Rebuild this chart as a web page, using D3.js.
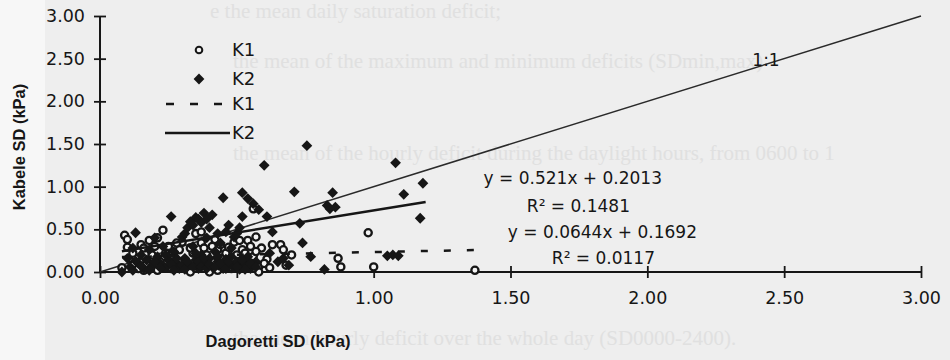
<!DOCTYPE html>
<html>
<head>
<meta charset="utf-8">
<script src="https://cdn.jsdelivr.net/npm/d3@7"></script>
<style>
  body { margin: 0; background: #efefef; }
  svg { display: block; }
</style>
</head>
<body>
<div id="chart"></div>
<script>
// Dagoretti SD (x) vs Kabele SD (y), kPa
const k1Points = [
  [0.08,0.05],[0.09,0.43],[0.10,0.29],[0.11,0.16],[0.12,0.08],[0.13,0.17],[0.14,0.24],[0.15,0.32],
  [0.16,0.02],[0.17,0.10],[0.18,0.37],[0.19,0.20],[0.21,0.02],[0.22,0.12],[0.23,0.06],[0.23,0.49],
  [0.24,0.22],[0.25,0.30],[0.27,0.18],[0.28,0.09],[0.29,0.26],[0.30,0.35],[0.31,0.14],[0.32,0.04],
  [0.33,0.00],[0.34,0.22],[0.35,0.45],[0.36,0.10],[0.37,0.34],[0.37,0.47],[0.38,0.28],[0.39,0.20],
  [0.40,0.00],[0.41,0.12],[0.42,0.38],[0.43,0.26],[0.43,0.02],[0.44,0.07],[0.45,0.16],[0.46,0.22],
  [0.47,0.29],[0.48,0.04],[0.49,0.14],[0.49,0.35],[0.50,0.09],[0.51,0.37],[0.52,0.26],[0.53,0.22],
  [0.54,0.37],[0.55,0.12],[0.56,0.18],[0.56,0.74],[0.57,0.41],[0.58,0.06],[0.58,0.00],[0.59,0.28],
  [0.61,0.15],[0.63,0.32],[0.66,0.32],[0.67,0.26],[0.68,0.08],[0.70,0.20],[0.87,0.16],[0.88,0.06],
  [0.98,0.46],[1.00,0.06],[1.37,0.02],
  [0.10,0.38],[0.12,0.22],[0.14,0.04],[0.16,0.28],[0.20,0.30],[0.21,0.40],[0.26,0.04],[0.28,0.34],
  [0.33,0.28],[0.36,0.18],[0.39,0.08],[0.41,0.30],[0.44,0.32],[0.47,0.05],[0.50,0.20],[0.52,0.05],
  [0.55,0.30],[0.57,0.24],[0.60,0.10],[0.62,0.05]
];
const k2Points = [
  [0.08,0.00],[0.10,0.16],[0.11,0.06],[0.12,0.28],[0.13,0.46],[0.14,0.10],[0.15,0.20],[0.16,0.04],
  [0.17,0.14],[0.18,0.26],[0.19,0.08],[0.20,0.40],[0.21,0.18],[0.22,0.10],[0.23,0.30],[0.24,0.05],
  [0.25,0.14],[0.26,0.65],[0.27,0.24],[0.28,0.10],[0.29,0.04],[0.30,0.41],[0.31,0.16],[0.32,0.52],
  [0.33,0.59],[0.33,0.08],[0.34,0.30],[0.35,0.64],[0.35,0.14],[0.36,0.04],[0.37,0.20],[0.38,0.69],
  [0.38,0.10],[0.39,0.40],[0.40,0.52],[0.40,0.16],[0.41,0.67],[0.41,0.06],[0.42,0.24],[0.43,0.12],
  [0.44,0.34],[0.45,0.04],[0.45,0.87],[0.46,0.47],[0.46,0.15],[0.47,0.08],[0.48,0.28],[0.49,0.41],
  [0.49,0.05],[0.50,0.12],[0.51,0.52],[0.51,0.03],[0.52,0.93],[0.52,0.65],[0.53,0.08],[0.54,0.86],
  [0.54,0.18],[0.55,0.04],[0.56,0.80],[0.57,0.12],[0.58,0.73],[0.60,1.25],[0.61,0.65],[0.62,0.22],
  [0.63,0.47],[0.65,0.12],[0.67,0.16],[0.69,0.08],[0.71,0.94],[0.73,0.57],[0.74,0.34],[0.756,1.48],
  [0.77,0.18],[0.82,0.03],[0.83,0.78],[0.84,0.74],[0.85,0.93],[0.86,0.76],[1.05,0.19],[1.07,0.20],
  [1.08,1.28],[1.09,0.19],[1.11,0.91],[1.17,0.63],[1.18,1.04],
  [0.12,0.02],[0.13,0.13],[0.15,0.07],[0.18,0.02],[0.20,0.12],[0.22,0.05],[0.24,0.20],[0.26,0.09],
  [0.27,0.02],[0.28,0.16],[0.30,0.08],[0.31,0.03],[0.32,0.12],[0.34,0.06],[0.35,0.22],[0.36,0.12],
  [0.37,0.06],[0.38,0.16],[0.39,0.04],[0.40,0.09],[0.42,0.06],[0.43,0.18],[0.44,0.10],[0.46,0.04],
  [0.47,0.12],[0.48,0.18],[0.50,0.06],[0.52,0.14],[0.53,0.03],[0.55,0.10],[0.57,0.06],[0.31,0.45],
  [0.34,0.55],[0.36,0.62],[0.37,0.58],[0.39,0.62],[0.43,0.45],[0.47,0.55],[0.50,0.45]
];
// fitted lines: slope, intercept, x range
const k1Fit = { slope: 0.0644, intercept: 0.1692, xFrom: 0.08, xTo: 1.37 };
const k2Fit = { slope: 0.521, intercept: 0.2013, xFrom: 0.08, xTo: 1.19 };
const tickValues = [0, 0.5, 1, 1.5, 2, 2.5, 3];
const equations = ["y = 0.521x + 0.2013", "R² = 0.1481", "y = 0.0644x + 0.1692", "R² = 0.0117"];
// faint text showing through the scanned page
const ghostLines = [
  "e the mean daily saturation deficit;",
  "the mean of the maximum and minimum deficits (SDmin,max)",
  "the mean of the hourly deficit during the daylight hours, from 0600 to 1",
  "the mean hourly deficit over the whole day (SD0000-2400)."
];

const W = 950, H = 360;
const ink = "#161616";
const svg = d3.select("#chart").append("svg").attr("width", W).attr("height", H);

svg.append("rect").attr("width", W).attr("height", H).attr("fill", "#eeeeee");
svg.append("rect").attr("width", 45).attr("height", H).attr("fill", "#f7f7f7");

const ghostPos = [[210, 18], [233, 68], [233, 160], [233, 345]];
svg.append("g").selectAll("text").data(ghostLines).join("text")
  .attr("x", (d, i) => ghostPos[i][0]).attr("y", (d, i) => ghostPos[i][1])
  .attr("font-family", "Liberation Serif").attr("font-size", 21)
  .attr("fill", "#e0e0e0").text(d => d);

const x = d3.scaleLinear().domain([0, 3]).range([100, 921]);
const y = d3.scaleLinear().domain([0, 3]).range([272, 16]);
const fmt = d3.format(".2f");

// axes with ticks crossing the line
const yAxis = svg.append("g").attr("transform", `translate(${x(0)},0)`)
  .call(d3.axisLeft(y).tickValues(tickValues).tickFormat(fmt).tickSize(6).tickPadding(9));
yAxis.selectAll(".tick line").attr("x1", 6);
const xAxis = svg.append("g").attr("transform", `translate(0,${y(0)})`)
  .call(d3.axisBottom(x).tickValues(tickValues).tickFormat(fmt).tickSize(6).tickPadding(14));
xAxis.selectAll(".tick line").attr("y1", -6);
[yAxis, xAxis].forEach(a => {
  a.select(".domain").remove();
  a.selectAll(".tick line").attr("stroke", ink).attr("stroke-width", 1.8);
  a.selectAll(".tick text").attr("fill", ink).attr("font-family", "DejaVu Sans").attr("font-size", 17.5);
});
svg.append("line").attr("x1", x(0)).attr("x2", x(0)).attr("y1", y(0)).attr("y2", y(3))
  .attr("stroke", ink).attr("stroke-width", 2);
svg.append("line").attr("x1", x(0)).attr("x2", x(3)).attr("y1", y(0)).attr("y2", y(0))
  .attr("stroke", ink).attr("stroke-width", 2);

// 1:1 line
svg.append("line").attr("x1", x(0)).attr("y1", y(0)).attr("x2", x(3)).attr("y2", y(3))
  .attr("stroke", "#2a2a2a").attr("stroke-width", 1.5);
svg.append("text").attr("x", 766).attr("y", 66).attr("text-anchor", "middle")
  .attr("font-family", "DejaVu Sans").attr("font-size", 17).attr("fill", ink).text("1:1");

// points
svg.append("g").selectAll("circle").data(k1Points).join("circle")
  .attr("cx", d => x(d[0])).attr("cy", d => y(d[1])).attr("r", 3.6)
  .attr("fill", "#f4f4f4").attr("stroke", ink).attr("stroke-width", 2.3);
const diamond = d3.symbol().type(d3.symbolSquare).size(58);
svg.append("g").selectAll("path").data(k2Points).join("path")
  .attr("d", diamond)
  .attr("transform", d => `translate(${x(d[0])},${y(d[1])}) rotate(45)`)
  .attr("fill", ink);

// regression lines
const fitLine = f => [[f.xFrom, f.slope * f.xFrom + f.intercept], [f.xTo, f.slope * f.xTo + f.intercept]];
const line = d3.line().x(d => x(d[0])).y(d => y(d[1]));
svg.append("path").attr("d", line(fitLine(k1Fit))).attr("fill", "none")
  .attr("stroke", ink).attr("stroke-width", 2.5).attr("stroke-dasharray", "7,16");
svg.append("path").attr("d", line(fitLine(k2Fit))).attr("fill", "none")
  .attr("stroke", ink).attr("stroke-width", 2.5);

// equations
const eqPos = [[662, 184], [630, 212], [697, 238], [655, 264]];
svg.append("g").selectAll("text").data(equations).join("text")
  .attr("x", (d, i) => eqPos[i][0]).attr("y", (d, i) => eqPos[i][1])
  .attr("text-anchor", "end")
  .attr("font-family", "DejaVu Sans").attr("font-size", 17).attr("fill", ink)
  .text(d => d);

// legend
const lg = svg.append("g").attr("font-family", "DejaVu Sans").attr("font-size", 18).attr("fill", ink);
lg.append("circle").attr("cx", 199).attr("cy", 50).attr("r", 3.3)
  .attr("fill", "#f4f4f4").attr("stroke", ink).attr("stroke-width", 2);
lg.append("path").attr("d", diamond).attr("transform", "translate(199,79) rotate(45)").attr("fill", ink);
lg.append("line").attr("x1", 166).attr("x2", 222).attr("y1", 104).attr("y2", 104)
  .attr("stroke", ink).attr("stroke-width", 2.5).attr("stroke-dasharray", "8,16");
lg.append("line").attr("x1", 165).attr("x2", 230).attr("y1", 133).attr("y2", 133)
  .attr("stroke", ink).attr("stroke-width", 2.5);
["K1", "K2", "K1", "K2"].forEach((t, i) => {
  lg.append("text").attr("x", 232).attr("y", [50, 79, 104, 133][i]).attr("dy", "0.36em").text(t);
});

// axis titles
svg.append("text").attr("x", 278).attr("y", 347).attr("text-anchor", "middle")
  .attr("font-family", "Liberation Sans").attr("font-weight", "bold").attr("font-size", 16.5)
  .attr("fill", ink).text("Dagoretti SD (kPa)");
svg.append("text").attr("transform", "translate(19,147) rotate(-90)").attr("dy", "0.35em")
  .attr("text-anchor", "middle")
  .attr("font-family", "Liberation Sans").attr("font-weight", "bold").attr("font-size", 16.5)
  .attr("fill", ink).text("Kabele SD (kPa)");
</script>
</body>
</html>
